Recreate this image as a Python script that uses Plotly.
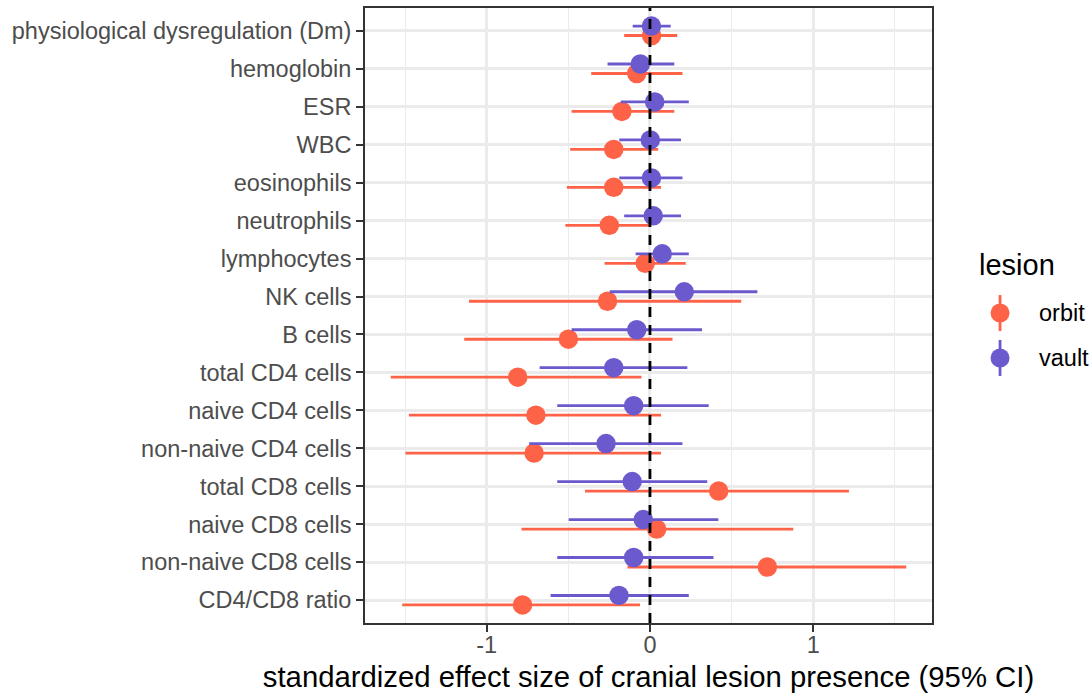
import plotly.graph_objects as go

categories = [
    "physiological dysregulation (Dm)", "hemoglobin", "ESR", "WBC", "eosinophils",
    "neutrophils", "lymphocytes", "NK cells", "B cells", "total CD4 cells",
    "naive CD4 cells", "non-naive CD4 cells", "total CD8 cells", "naive CD8 cells",
    "non-naive CD8 cells", "CD4/CD8 ratio",
]

orbit_est = [0.01, -0.081, -0.172, -0.222, -0.222, -0.249, -0.029, -0.26, -0.50, -0.81,
             -0.699, -0.71, 0.421, 0.041, 0.719, -0.781]
orbit_lo = [-0.158, -0.36, -0.48, -0.489, -0.509, -0.518, -0.278, -1.109, -1.138, -1.588,
            -1.477, -1.498, -0.398, -0.787, -0.138, -1.518]
orbit_hi = [0.167, 0.199, 0.149, 0.05, 0.068, 0.0, 0.219, 0.559, 0.138, -0.052,
            0.068, 0.068, 1.219, 0.878, 1.57, -0.061]

vault_est = [0.009, -0.059, 0.029, 0.002, 0.009, 0.02, 0.075, 0.21, -0.081, -0.222,
             -0.10, -0.269, -0.109, -0.041, -0.10, -0.19]
vault_lo = [-0.106, -0.26, -0.179, -0.188, -0.188, -0.158, -0.088, -0.247, -0.48, -0.676,
            -0.568, -0.74, -0.568, -0.498, -0.568, -0.609]
vault_hi = [0.127, 0.149, 0.238, 0.19, 0.199, 0.19, 0.238, 0.658, 0.319, 0.229,
            0.36, 0.199, 0.351, 0.419, 0.389, 0.238]

x_ticks = [-1, 0, 1]
lesions = ["orbit", "vault"]
colors = {"orbit": "#FF6347", "vault": "#6A5ACD"}

FONT = "Liberation Sans, Arial, Helvetica, sans-serif"

series = {
    "orbit": (orbit_est, orbit_lo, orbit_hi),
    "vault": (vault_est, vault_lo, vault_hi),
}

fig = go.Figure()
for name in lesions:
    est, lo, hi = series[name]
    fig.add_trace(go.Scatter(
        x=est, y=categories, name=name, mode="markers", orientation="h",
        offsetgroup=name, showlegend=False,
        marker=dict(color=colors[name], size=19.5, line=dict(width=0)),
        error_x=dict(type="data", symmetric=False,
                     array=[h - e for h, e in zip(hi, est)],
                     arrayminus=[e - l for e, l in zip(est, lo)],
                     color=colors[name], thickness=2.8, width=0),
    ))

all_lo = min(orbit_lo + vault_lo)
all_hi = max(orbit_hi + vault_hi)
pad = 0.05 * (all_hi - all_lo)

fig.add_vline(x=0, line=dict(color="black", width=2.8, dash="10px,8px"), layer="above")

# custom legend (ggplot style)
lg_x = 1.12
lg_ys = {"orbit": 0.504, "vault": 0.431}
for name in lesions:
    yy = lg_ys[name]
    fig.add_shape(type="line", xref="paper", yref="paper", xsizemode="pixel", ysizemode="pixel",
                  xanchor=lg_x, yanchor=yy, x0=0, x1=0, y0=-18, y1=18,
                  line=dict(color=colors[name], width=2.8))
    fig.add_shape(type="circle", xref="paper", yref="paper", xsizemode="pixel", ysizemode="pixel",
                  xanchor=lg_x, yanchor=yy, x0=-9.5, x1=9.5, y0=-9.5, y1=9.5,
                  fillcolor=colors[name], line=dict(width=0))
    fig.add_annotation(x=1.185, y=yy, xref="paper", yref="paper", text=name, showarrow=False,
                       xanchor="left", yanchor="middle",
                       font=dict(family=FONT, size=23.5, color="black"))
fig.add_annotation(x=1.079, y=0.582, xref="paper", yref="paper", text="lesion", showarrow=False,
                   xanchor="left", yanchor="middle",
                   font=dict(family=FONT, size=29, color="black"))

fig.update_layout(
    width=1091, height=695,
    margin=dict(l=365, r=159, t=8, b=72),
    paper_bgcolor="white", plot_bgcolor="white",
    scattermode="group", scattergap=0.5,
    font=dict(family=FONT),
    xaxis=dict(
        automargin=False,
        range=[all_lo - pad, all_hi + pad],
        tickvals=x_ticks, ticktext=[str(v) for v in x_ticks],
        ticks="outside", ticklen=7, tickwidth=1.6, tickcolor="#333333",
        ticklabelstandoff=-7,
        tickfont=dict(family=FONT, size=23.5, color="#4D4D4D"),
        showgrid=True, gridcolor="#EBEBEB", gridwidth=2.6,
        minor=dict(tickvals=[-1.5, -0.5, 0.5, 1.5], showgrid=True, gridcolor="#EBEBEB", gridwidth=1.4),
        zeroline=False,
        showline=True, mirror=True, linecolor="#333333", linewidth=1.8,
        title=dict(text="standardized effect size of cranial lesion presence (95% CI)",
                   font=dict(family=FONT, size=29.3, color="black"), standoff=9),
    ),
    yaxis=dict(
        automargin=False,
        type="category", categoryorder="array", categoryarray=categories[::-1],
        range=[-0.6, len(categories) - 0.4],
        ticks="outside", ticklen=7, tickwidth=1.6, tickcolor="#333333",
        tickfont=dict(family=FONT, size=23.5, color="#4D4D4D"),
        showgrid=True, gridcolor="#EBEBEB", gridwidth=2.6,
        zeroline=False,
        showline=True, mirror=True, linecolor="#333333", linewidth=1.8,
    ),
)

fig.write_html("out.html")
